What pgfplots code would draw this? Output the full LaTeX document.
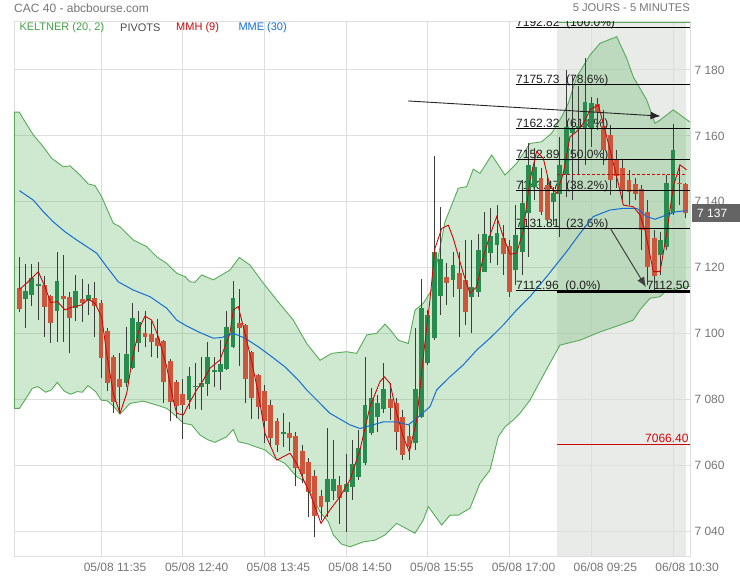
\documentclass[border=0pt]{standalone}
\usepackage{fontspec}
\setmainfont{Liberation Sans}
\usepackage{pgfplots}
\pgfplotsset{compat=1.18}
\usepackage{pgfplotstable}
\usepgfplotslibrary{fillbetween}
\usetikzlibrary{arrows.meta}

\definecolor{gridc}{RGB}{222,222,222}
\definecolor{tickc}{RGB}{117,117,117}
\definecolor{kline}{RGB}{88,170,88}
\definecolor{kfill}{RGB}{76,175,80}
\definecolor{legG}{RGB}{67,160,71}
\definecolor{cgreen}{RGB}{40,140,78}
\definecolor{cred}{RGB}{205,85,60}
\definecolor{wick}{RGB}{60,60,60}
\definecolor{mmh}{RGB}{200,10,10}
\definecolor{mme}{RGB}{20,110,210}
\definecolor{grayreg}{RGB}{232,235,232}
\definecolor{tagc}{RGB}{100,100,100}
\definecolor{fibt}{RGB}{30,30,30}

\newcommand{\fs}[1]{\fontsize{#1bp}{#1bp}\selectfont}

% 5-minute candles, index 0 = 05/08 10:30
\pgfplotstableread{
i O H L C
0 7113.7 7123.3 7106.6 7107.4
1 7110.4 7121.1 7101.6 7112.9
2 7111.6 7121.1 7108.5 7116.8
3 7114.4 7121.6 7104.1 7115.0
4 7114.7 7117.5 7099.1 7108.0
5 7111.4 7111.7 7097.2 7103.1
6 7106.9 7124.7 7097.5 7116.0
7 7111.5 7123.9 7097.5 7110.4
8 7111.0 7112.6 7094.0 7104.6
9 7107.7 7117.8 7103.8 7112.9
10 7110.4 7116.6 7103.6 7109.4
11 7109.9 7115.1 7105.6 7111.6
12 7110.7 7115.7 7099.0 7108.4
13 7109.4 7110.2 7086.5 7092.5
14 7100.8 7101.7 7082.6 7084.9
15 7092.8 7093.5 7075.8 7079.1
16 7086.1 7094.0 7075.8 7083.7
17 7084.9 7101.9 7083.7 7093.8
18 7089.5 7109.2 7089.3 7104.6
19 7097.0 7107.0 7094.3 7103.4
20 7100.1 7107.0 7095.8 7099.1
21 7099.8 7103.8 7093.0 7097.5
22 7098.6 7104.4 7092.7 7096.3
23 7097.8 7098.1 7079.0 7085.4
24 7091.7 7092.3 7073.5 7079.3
25 7085.4 7085.9 7074.4 7077.9
26 7081.6 7086.1 7067.9 7078.3
27 7079.8 7090.0 7077.0 7087.1
28 7083.7 7091.2 7077.0 7084.1
29 7083.7 7092.8 7076.8 7085.1
30 7084.7 7097.4 7081.1 7092.9
31 7088.4 7093.0 7083.9 7088.8
32 7088.4 7098.1 7082.9 7090.8
33 7089.3 7106.9 7089.0 7101.9
34 7095.9 7116.0 7095.6 7110.7
35 7103.1 7113.5 7090.2 7101.8
36 7102.6 7102.9 7078.8 7086.1
37 7094.4 7094.7 7074.1 7080.4
38 7087.4 7087.7 7074.1 7077.8
39 7082.6 7084.4 7066.7 7073.6
40 7078.3 7079.8 7065.7 7068.4
41 7073.5 7074.4 7064.1 7066.2
42 7069.6 7075.8 7065.7 7070.0
43 7069.7 7073.2 7064.4 7068.2
44 7068.9 7070.1 7053.7 7059.1
45 7064.4 7066.2 7054.7 7057.4
46 7060.9 7062.2 7044.4 7052.0
47 7056.8 7058.6 7038.2 7044.7
48 7050.7 7052.5 7043.4 7047.3
49 7048.8 7071.3 7044.4 7055.9
50 7052.3 7067.7 7049.5 7055.9
51 7054.0 7056.8 7042.2 7050.2
52 7052.0 7063.5 7039.9 7054.4
53 7053.4 7067.7 7049.5 7060.4
54 7056.6 7070.7 7055.6 7065.4
55 7060.8 7092.8 7060.1 7078.3
56 7069.7 7083.4 7069.2 7080.5
57 7074.8 7081.4 7070.2 7079.0
58 7077.0 7091.2 7075.8 7083.2
59 7080.1 7084.9 7073.8 7077.5
60 7079.0 7080.5 7064.7 7070.2
61 7074.8 7076.8 7061.6 7063.2
62 7068.9 7072.3 7061.6 7065.6
63 7066.7 7101.6 7064.7 7083.1
64 7074.8 7116.5 7074.4 7107.7
65 7091.2 7107.2 7090.5 7105.6
66 7098.6 7153.9 7098.1 7124.7
67 7111.5 7138.5 7105.6 7122.6
68 7117.3 7121.5 7108.7 7115.3
69 7116.3 7124.9 7111.2 7120.8
70 7118.3 7124.9 7099.1 7113.6
71 7116.3 7128.4 7102.6 7106.6
72 7111.2 7128.4 7100.1 7114.2
73 7112.7 7130.2 7111.2 7125.4
74 7118.8 7137.0 7118.7 7130.2
75 7124.6 7138.0 7121.3 7129.6
76 7126.9 7139.0 7120.8 7130.6
77 7128.9 7133.0 7117.8 7124.1
78 7126.6 7128.4 7111.2 7112.7
79 7119.3 7139.0 7114.8 7129.9
80 7124.8 7146.6 7117.8 7139.5
81 7136.5 7157.8 7123.3 7151.2
82 7144.6 7156.2 7140.5 7150.6
83 7147.1 7150.3 7136.0 7137.0
84 7145.1 7147.5 7133.0 7134.5
85 7140.0 7144.6 7133.0 7142.6
86 7142.4 7159.8 7129.4 7151.2
87 7148.1 7180.0 7141.5 7162.7
88 7161.0 7178.2 7140.5 7162.0
89 7162.0 7175.0 7148.0 7163.0
90 7162.4 7183.6 7151.2 7170.4
91 7162.4 7171.8 7156.6 7170.0
92 7169.7 7171.5 7161.8 7167.3
93 7163.0 7167.9 7151.2 7155.7
94 7160.3 7163.3 7142.1 7146.6
95 7152.7 7155.7 7144.2 7147.8
96 7150.3 7152.7 7140.5 7143.3
97 7146.6 7149.6 7139.0 7143.0
98 7145.4 7147.2 7140.5 7142.4
99 7143.9 7145.1 7125.4 7131.4
100 7136.9 7140.5 7114.8 7120.2
101 7128.9 7131.4 7112.5 7117.5
102 7123.9 7130.8 7117.8 7128.4
103 7126.4 7148.1 7125.4 7145.6
104 7136.6 7163.6 7136.0 7155.7
105 7145.8 7151.2 7139.0 7145.4
106 7145.3 7145.7 7135.1 7136.6
}\candles

\tikzset{fibl/.style={anchor=base west, inner sep=0pt, yshift=1bp, font=\fs{12}, text=fibt},
  fibline/.style={black, line width=1bp}}

\begin{document}
\begin{tikzpicture}
\begin{axis}[
  at={(14.2bp,23bp)}, anchor=south west,
  scale only axis, width=675.8bp, height=535.3bp,
  set layers,
  xmin=-0.81, xmax=106.7, ymin=7032.2, ymax=7194.65,
  axis line style={draw=gridc, line width=1bp},
  tick style={draw=none}, major tick length=0pt,
  xtick={13,26,39,52,65,78,91,104},
  xticklabels={05/08 11:35,05/08 12:40,05/08 13:45,05/08 14:50,05/08 15:55,05/08 17:00,06/08 09:25,06/08 10:30},
  xticklabel style={font=\fs{12}, text=tickc, xshift=14bp, yshift=-2bp},
  ytick={7040,7060,7080,7100,7120,7140,7160,7180},
  yticklabels={7 040,7 060,7 080,7 100,7 120,7 140,7 160,7 180},
  yticklabel pos=right,
  yticklabel style={font=\fs{12}, text=tickc, xshift=1bp},
  grid=major, grid style={draw=gridc, line width=1bp},
]
\begin{pgfonlayer}{axis background}
\fill[grayreg] (axis cs:85.6,7032.2) rectangle (axis cs:106.0,7194.65);
\end{pgfonlayer}

% Keltner (20, 2)
\addplot[name path=up, kline, line width=0.9bp] coordinates {
(-0.81,7167.2) (0,7167.2) (0.91,7164.3) (2.23,7160.3) (3.82,7156.7) (5.15,7153.2) (7.0,7150.6) (8.07,7150.9) (9.66,7148.1) (10.98,7145.4) (12.04,7144.9) (13.11,7141.5) (14.95,7133.5) (16.02,7132.4) (18.14,7128.4) (20.27,7126.4) (21.86,7123.3) (23.45,7121.3) (25.04,7118.3) (26.36,7117.3) (27.16,7115.7) (27.95,7115.6) (29.02,7117.8) (30.86,7116.3) (33.52,7119.3) (35.0,7123.1) (36.7,7120.8) (38.82,7115.3) (40.95,7110.2) (43.59,7104.1) (45.72,7097.0) (47.84,7091.9) (49.7,7094.0) (52.08,7094.5) (53.67,7094.0) (55.27,7099.6) (56.86,7100.1) (58.18,7102.9) (59.24,7100.6) (60.29,7098.0) (61.88,7097.0) (62.95,7107.1) (64.27,7109.2) (65.61,7113.2) (67.72,7133.9) (69.84,7144.1) (71.17,7144.6) (72.22,7149.9) (73.29,7148.6) (75.15,7154.2) (77.27,7148.1) (79.13,7151.7) (81.24,7157.7) (83.1,7158.2) (84.69,7160.8) (86.29,7165.8) (87.34,7169.9) (88.67,7177.9) (90.79,7184.5) (92.38,7188.1) (95.04,7190.1) (96.63,7183.5) (97.68,7177.9) (99.81,7170.9) (101.13,7163.8) (101.93,7164.8) (104.04,7167.9) (105.9,7165.3) (106.7,7164.2)
};
\addplot[name path=lo, kline, line width=0.9bp] coordinates {
(-0.81,7077.3) (0,7077.3) (1.27,7080.9) (2.07,7083.4) (2.97,7083.9) (4.2,7082.2) (5.09,7082.9) (6.05,7085.2) (7.11,7082.6) (8.18,7081.6) (9.23,7082.4) (10.02,7082.2) (10.93,7084.2) (12.15,7082.4) (13.04,7079.8) (14.0,7079.6) (15.07,7077.8) (16.02,7075.6) (17.61,7078.8) (19.73,7079.5) (21.86,7078.3) (23.45,7077.3) (25.04,7074.8) (26.09,7072.8) (27.43,7072.3) (28.75,7069.2) (30.07,7067.7) (31.13,7067.0) (32.99,7068.7) (34.04,7070.9) (34.84,7067.2) (36.43,7066.5) (37.5,7065.7) (39.09,7064.7) (40.68,7062.1) (42.27,7060.6) (44.13,7056.6) (45.45,7055.0) (46.25,7052.0) (47.84,7045.9) (49.16,7042.9) (49.95,7038.9) (51.29,7036.1) (52.61,7035.3) (54.73,7036.8) (56.59,7037.3) (58.18,7038.9) (60.04,7042.4) (62.95,7039.4) (64.27,7043.4) (65.07,7047.5) (67.2,7041.9) (68.52,7044.9) (69.84,7044.9) (71.7,7047.0) (73.29,7054.6) (74.88,7058.6) (76.2,7068.7) (77.27,7071.7) (78.59,7073.8) (79.65,7075.8) (81.24,7079.8) (83.63,7088.3) (86.02,7096.5) (89.2,7098.0) (92.38,7100.5) (95.56,7102.6) (97.68,7104.1) (98.74,7107.2) (100.33,7110.7) (101.93,7111.2) (102.99,7113.2) (104.04,7113.2) (106.17,7114.2) (106.7,7114.4)
};
\addplot[kfill, fill opacity=0.27] fill between[of=up and lo];
\draw[kline, line width=1bp] (axis cs:-0.78,7167.2) -- (axis cs:-0.78,7077.3);
\draw[kline, line width=1.2bp] (axis cs:85.6,7194.4) -- (axis cs:106.7,7194.4);

% Fibonacci labels
\node[fibl] at (axis cs:79.02,7192.82) {7192.82\ \ (100.0\%)};
\node[fibl] at (axis cs:79.02,7175.73) {7175.73\ \ (78.6\%)};
\node[fibl] at (axis cs:79.02,7162.32) {7162.32\ \ (61.8\%)};
\node[fibl] at (axis cs:79.02,7152.89) {7152.89\ \ (50.0\%)};
\node[fibl] at (axis cs:79.02,7143.47) {7143.47\ \ (38.2\%)};
\node[fibl] at (axis cs:79.02,7131.81) {7131.81\ \ (23.6\%)};
\node[fibl] at (axis cs:79.02,7112.96) {7112.96\ \ (0.0\%)};
\node[fibl] at (axis cs:99.8,7112.96) {7112.50};
\node[anchor=base east, inner sep=0pt, yshift=2bp, font=\fs{12}, text=mmh] at (axis cs:106.5,7066.4) {7066.40};

% wicks
\addplot[draw=none, no markers, error bars/.cd, y dir=plus, y explicit, error mark=none,
  error bar style={draw=wick, line width=1bp, line cap=butt}]
  table[x=i, y=L, y error expr=\thisrow{H}-\thisrow{L}] {\candles};
% bodies
\addplot[draw=none, no markers, restrict expr to domain={\thisrow{C}-\thisrow{O}}{0.001:1000},
  error bars/.cd, y dir=plus, y explicit, error mark=none,
  error bar style={draw=cgreen, line width=4.8bp, line cap=butt}]
  table[x=i, y=O, y error expr=\thisrow{C}-\thisrow{O}] {\candles};
\addplot[draw=none, no markers, restrict expr to domain={\thisrow{O}-\thisrow{C}}{0.001:1000},
  error bars/.cd, y dir=plus, y explicit, error mark=none,
  error bar style={draw=cred, line width=4.8bp, line cap=butt}]
  table[x=i, y=C, y error expr=\thisrow{O}-\thisrow{C}] {\candles};

% MME (30)
\addplot[mme, line width=1bp] coordinates {
(0,7143.4) (2.23,7140.5) (3.82,7137.0) (5.41,7133.9) (7.27,7130.9) (9.13,7128.4) (10.72,7126.4) (12.31,7124.4) (13.9,7120.3) (15.75,7115.7) (18.14,7113.2) (20.79,7111.2) (23.45,7107.7) (25.04,7104.1) (26.63,7102.3) (28.75,7100.3) (30.86,7098.6) (32.2,7098.8) (34.04,7100.1) (35.9,7098.6) (38.02,7096.0) (40.15,7093.0) (42.27,7089.9) (44.38,7085.9) (45.72,7082.9) (49.43,7075.8) (52.61,7072.3) (54.2,7071.2) (57.91,7073.2) (60.04,7073.2) (61.88,7072.3) (63.22,7074.3) (65.33,7077.8) (66.4,7082.9) (68.52,7086.9) (70.63,7090.5) (72.76,7095.0) (74.88,7098.6) (76.99,7102.6) (79.13,7107.2) (81.24,7111.2) (83.9,7117.3) (87.08,7124.9) (89.2,7130.4) (91.31,7135.5) (93.97,7137.5) (96.09,7138.0) (98.22,7138.0) (99.81,7135.5) (101.13,7134.7) (102.99,7136.0) (104.58,7137.0) (106.17,7137.3)
};
% MMH (9)
\addplot[mmh, line width=0.9bp] coordinates {
(0,7113.4) (1.18,7115.3) (3.02,7118.8) (4.09,7114.2) (5.0,7109.4) (6.05,7109.7) (7.27,7107.2) (8.34,7108.0) (9.93,7108.7) (10.98,7110.4) (12.04,7109.2) (13.11,7105.1) (13.9,7094.0) (14.95,7081.9) (16.02,7075.8) (17.09,7081.9) (18.14,7094.0) (19.2,7102.1) (20.0,7105.3) (21.06,7104.1) (22.11,7099.1) (23.45,7089.9) (24.5,7079.8) (25.04,7075.8) (26.09,7075.3) (27.16,7079.3) (28.22,7082.9) (29.27,7085.9) (30.34,7089.5) (31.93,7092.0) (33.52,7100.1) (34.04,7107.2) (34.84,7108.2) (35.9,7100.1) (36.97,7091.5) (38.02,7081.9) (39.09,7069.7) (40.95,7061.6) (43.06,7063.7) (44.13,7060.6) (45.45,7054.6) (46.25,7051.5) (48.0,7042.4) (49.43,7046.5) (51.02,7050.5) (52.61,7055.6) (54.2,7064.7) (55.79,7077.8) (57.38,7085.4) (58.07,7086.9) (58.97,7084.9) (60.04,7075.8) (61.09,7068.7) (62.04,7064.1) (63.22,7073.8) (64.27,7093.0) (65.33,7110.2) (66.13,7125.9) (67.2,7131.9) (68.25,7132.9) (69.04,7128.9) (70.63,7118.3) (71.7,7112.2) (72.76,7114.2) (73.82,7123.3) (74.88,7129.9) (75.95,7135.5) (76.99,7129.4) (78.06,7124.1) (79.13,7124.4) (80.18,7131.4) (81.24,7146.6) (82.3,7155.2) (83.36,7153.2) (84.43,7144.6) (85.49,7142.6) (86.54,7148.6) (87.6,7159.7) (88.67,7161.3) (89.72,7163.8) (90.79,7167.9) (92.11,7169.4) (93.18,7161.8) (94.24,7153.7) (95.29,7145.6) (96.09,7139.0) (97.68,7138.5) (98.74,7136.0) (99.54,7131.4) (100.86,7118.8) (101.93,7118.8) (102.99,7130.4) (104.04,7144.6) (105.1,7151.2) (106.17,7149.7)
};

% pivots
\draw[mmh, line width=0.8bp, dash pattern=on 3bp off 2bp] (axis cs:85.6,7148.3) -- (axis cs:106.0,7148.3);
\draw[mmh, line width=0.8bp] (axis cs:85.6,7066.4) -- (axis cs:106.7,7066.4);

% Fibonacci lines
\draw[fibline] (axis cs:79.02,7192.82) -- (axis cs:106.7,7192.82);
\draw[fibline] (axis cs:79.02,7175.73) -- (axis cs:106.7,7175.73);
\draw[fibline] (axis cs:79.02,7162.32) -- (axis cs:106.7,7162.32);
\draw[fibline] (axis cs:79.02,7152.89) -- (axis cs:106.7,7152.89);
\draw[fibline] (axis cs:79.02,7143.47) -- (axis cs:106.7,7143.47);
\draw[fibline] (axis cs:79.02,7131.81) -- (axis cs:106.7,7131.81);
\draw[fibline] (axis cs:79.02,7112.96) -- (axis cs:106.7,7112.96);
\draw[black, line width=1.3bp] (axis cs:85.6,7112.6) -- (axis cs:106.7,7112.6);

% drawn trend arrows
\draw[black!85, line width=0.9bp, -{Latex[length=10bp,width=8bp]}] (axis cs:61.84,7170.6) -- (axis cs:102.0,7166.0);
\draw[black!75, line width=1bp, -{Latex[length=10bp,width=8bp]}] (axis cs:94.0,7132.0) -- (axis cs:99.7,7114.1);
\end{axis}
\pgfresetboundingbox
\useasboundingbox (0,0) rectangle (740bp,580bp);

% titles and legend
\node[anchor=west, inner sep=0pt, font=\fs{12}, text=tickc] at (14bp,572bp) {CAC 40 - abcbourse.com};
\node[anchor=east, inner sep=0pt, font=\fs{11.2}, text=tickc] at (690bp,572bp) {5 JOURS - 5 MINUTES};
\node[anchor=west, inner sep=0pt, font=\fs{11}, text=legG] at (19.3bp,552bp) {KELTNER (20, 2)};
\node[anchor=west, inner sep=0pt, font=\fs{11}, text=black!70] at (120bp,552bp) {PIVOTS};
\node[anchor=west, inner sep=0pt, font=\fs{11}, text=mmh] at (176bp,552bp) {MMH (9)};
\node[anchor=west, inner sep=0pt, font=\fs{11}, text=mme] at (238.3bp,552bp) {MME (30)};

% last price tag
\fill[tagc] (692bp,358bp) rectangle (740bp,376bp);
\node[anchor=west, inner sep=0pt, font=\fs{12}, text=white] at (697bp,367bp) {7 137};
\end{tikzpicture}
\end{document}
